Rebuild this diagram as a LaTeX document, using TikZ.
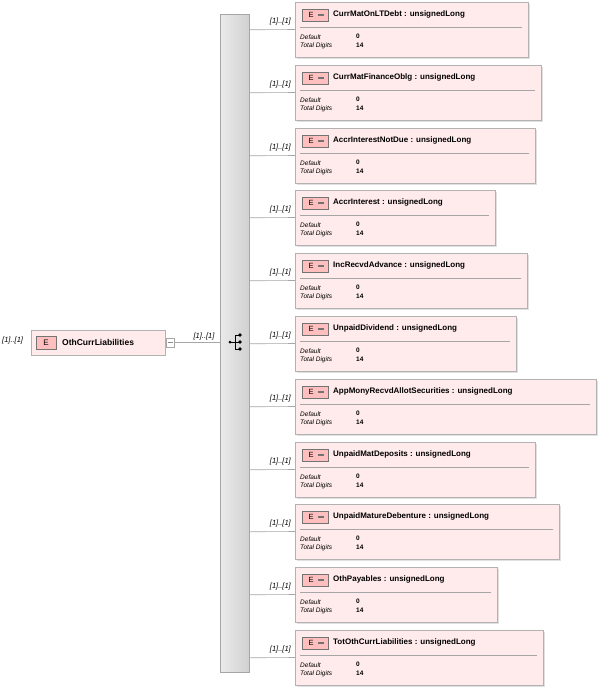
\documentclass[tikz,border=0pt]{standalone}
\usepackage{fontspec}
\setmainfont{Liberation Sans}
\begin{document}
\begin{tikzpicture}[x=1pt,y=-1pt,
  elbox/.style={draw=black!30,fill=red!8,line width=0.6pt},
  ebadge/.style={draw=black!55,fill=red!25,line width=0.5pt},
  card/.style={font=\itshape\fontsize{7.5}{8}\selectfont,inner sep=0pt},
  conn/.style={draw=black!35,line width=0.6pt},
  lbl/.style={font=\bfseries\fontsize{8}{9}\selectfont,inner sep=0pt,anchor=west},
  fac/.style={font=\itshape\fontsize{6.5}{7}\selectfont,inner sep=0pt,anchor=west},
  facv/.style={font=\bfseries\fontsize{6.5}{7}\selectfont,inner sep=0pt,anchor=west}]
\useasboundingbox (0,0) rectangle (600,691);
% sequence bar
\node[draw=black!35,left color=black!8,right color=black!18,minimum width=29pt,minimum height=658pt,inner sep=0pt] (seq) at (234.5,343) {};
% sequence icon
\coordinate (ic) at (240,342);
\fill (230,342) circle (1.5pt);
\draw[line width=0.6pt] (231,342) -- (235,342) (235,335) -- (235,349) (235,335)--(240,335) (235,342)--(240,342) (235,349)--(240,349);
\fill (240,335) circle (1.8pt) (240,342) circle (1.8pt) (240,349) circle (1.8pt);
% main element
\node[elbox,minimum width=134pt,minimum height=25pt,inner sep=0pt] (main) at (98,342.5) {};
\node[ebadge,minimum width=20pt,minimum height=13pt,inner sep=0pt,font=\fontsize{8}{9}\selectfont] (mb) at (46,342.5) {E};
\node[lbl,font=\bfseries\fontsize{8.5}{9}\selectfont] (mt) at (62,342) {OthCurrLiabilities};
\node[draw=black!35,fill=white,minimum width=8pt,minimum height=9pt,inner sep=0pt] (minus) at (170,342.5) {};
\draw[black!45] (167.5,342.5)--(172.5,342.5);
\node[card,anchor=west] (lc) at (2,341) {[1]..[1]};
\draw[conn] (minus.east) -- (seq.west|-minus);
\node[card] (sc) at (204,337) {[1]..[1]};
% children
\foreach \n/\t/\r/\name in {1/2/528/CurrMatOnLTDebt,2/65/541/CurrMatFinanceOblg,3/128/535/AccrInterestNotDue,4/190/495/AccrInterest,5/253/527/IncRecvdAdvance,6/316/516/UnpaidDividend,7/379/596/AppMonyRecvdAllotSecurities,8/442/535/UnpaidMatDeposits,9/504/559/UnpaidMatureDebenture,10/567/497/OthPayables,11/630/543/TotOthCurrLiabilities}{
  \fill[black!12] (297,\t+2) rectangle (\r+2,\t+57);
  \node[elbox,anchor=north west,minimum width=\r pt-295pt,minimum height=55pt,inner sep=0pt] (c\n) at (295,\t) {};
  \node[ebadge,minimum width=26pt,minimum height=12pt,inner sep=0pt] (b\n) at (315,\t+13) {};
  \node[font=\fontsize{7.5}{8}\selectfont,inner sep=0pt] at (311,\t+13) {E};
  \fill[black!55] (318,\t+12.3) rectangle (324,\t+13.7);
  \node[lbl] (t\n) at (333,\t+12.5) {\name\ : unsignedLong};
  \draw[black!35] (300,\t+25) -- (\r-6,\t+25);
  \node[fac] at (300,\t+35) {Default};
  \node[fac] at (300,\t+44) {Total Digits};
  \node[facv] at (356,\t+34) {0};
  \node[facv] at (356,\t+43) {14};
  \draw[conn] (seq.east|-c\n.west) ++(0,0) -- (295,\t+27.5);
  \node[card,anchor=east] at (291,\t+20) {[1]..[1]};
}
\end{tikzpicture}
\end{document}
